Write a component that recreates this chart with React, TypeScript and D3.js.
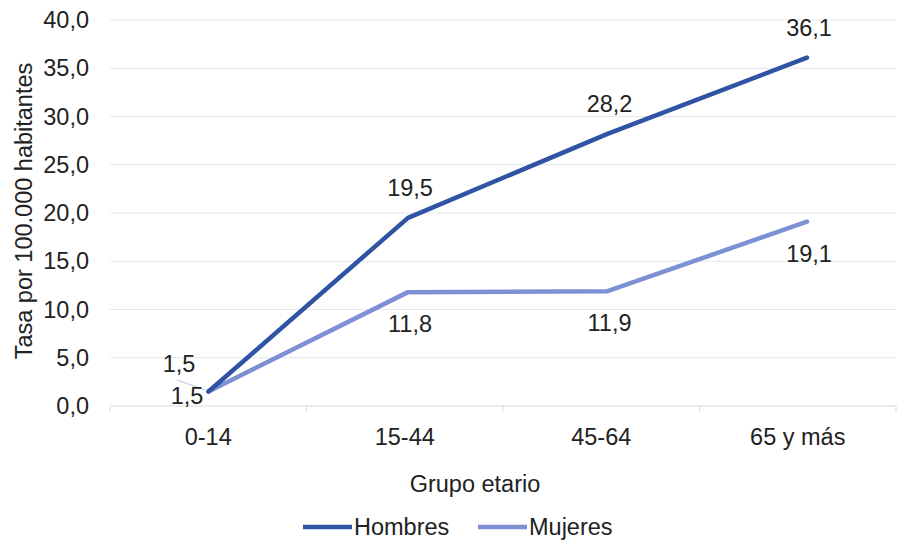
import React from "react";
import * as d3 from "d3";

const categories = ["0-14", "15-44", "45-64", "65 y más"];
const hombres = [1.5, 19.5, 28.2, 36.1];
const mujeres = [1.5, 11.8, 11.9, 19.1];
const yTicks = [0, 5, 10, 15, 20, 25, 30, 35, 40];
const seriesNames = ["Hombres", "Mujeres"];
const colors = ["#2F54A3", "#7C91D3"];

const W = 897;
const H = 542;
const font = "'Liberation Sans', Arial, sans-serif";
const FS = 23.5;

export default function App() {
  const x = d3.scaleBand<string>().domain(categories).range([110, 896]);
  const xp = d3.scalePoint<string>().domain(categories).range([208.5, 807]);
  const y = d3.scaleLinear().domain([0, 40]).range([406, 20]);
  const cx = (c: string) => (x(c) as number) + x.bandwidth() / 2;
  const px = (i: number) => xp(categories[i]) as number;
  const line = d3
    .line<number>()
    .x((_, i) => px(i))
    .y((d) => y(d));
  const fmt = (v: number) => v.toFixed(1).replace(".", ",");
  const boundaries = categories.map((c) => x(c) as number).concat([896]);

  return (
    <svg width={W} height={H} style={{ position: "absolute", left: 0, top: 0 }}>
      <rect width={W} height={H} fill="#fff" />
      {yTicks.map((t) => (
        <g key={t}>
          {t > 0 && (
            <line x1={110} x2={896} y1={y(t)} y2={y(t)} stroke="#e4e6ea" strokeWidth={1} />
          )}
          <text
            x={89}
            y={y(t)}
            dy="0.35em"
            textAnchor="end"
            fontFamily={font}
            fontSize={FS}
            fill="#222"
          >
            {fmt(t)}
          </text>
        </g>
      ))}
      <line x1={110} x2={896} y1={406} y2={406} stroke="#d6d9de" strokeWidth={1} />
      {boundaries.map((b, i) => (
        <line key={i} x1={b} x2={b} y1={406} y2={412} stroke="#d6d9de" strokeWidth={1} />
      ))}
      {categories.map((c) => (
        <text
          key={c}
          x={cx(c)}
          y={437}
          dy="0.35em"
          textAnchor="middle"
          fontFamily={font}
          fontSize={FS}
          fill="#222"
        >
          {c}
        </text>
      ))}
      <text
        x={475}
        y={484}
        dy="0.35em"
        textAnchor="middle"
        fontFamily={font}
        fontSize={FS}
        fill="#222"
      >
        Grupo etario
      </text>
      <text
        transform={`translate(24,211) rotate(-90)`}
        dy="0.35em"
        textAnchor="middle"
        fontFamily={font}
        fontSize={FS}
        fill="#222"
      >
        Tasa por 100.000 habitantes
      </text>

      {/* leader line for first Mujeres label */}
      <line x1={177} y1={380} x2={205} y2={390} stroke="#b8c4de" strokeWidth={1} />

      <path d={line(mujeres) || ""} fill="none" stroke={colors[1]} strokeWidth={4.5} strokeLinejoin="round" strokeLinecap="round" />
      <path d={line(hombres) || ""} fill="none" stroke={colors[0]} strokeWidth={4.5} strokeLinejoin="round" strokeLinecap="round" />

      {hombres.map((v, i) => (
        <text
          key={"h" + i}
          x={i === 0 ? 179 : px(i) + 2}
          y={i === 0 ? 364 : y(v) - 30}
          dy="0.35em"
          textAnchor="middle"
          fontFamily={font}
          fontSize={FS}
          fill="#222"
        >
          {fmt(v)}
        </text>
      ))}
      {mujeres.map((v, i) => (
        <text
          key={"m" + i}
          x={i === 0 ? 187 : px(i) + 2}
          y={i === 0 ? 396 : y(v) + 32}
          dy="0.35em"
          textAnchor="middle"
          fontFamily={font}
          fontSize={FS}
          fill="#222"
        >
          {fmt(v)}
        </text>
      ))}

      {seriesNames.map((n, i) => {
        const lx = i === 0 ? 303 : 478;
        return (
          <g key={n}>
            <line x1={lx} x2={lx + 49} y1={527} y2={527} stroke={colors[i]} strokeWidth={4.5} />
            <text
              x={lx + 51}
              y={527}
              dy="0.35em"
              fontFamily={font}
              fontSize={FS}
              fill="#222"
            >
              {n}
            </text>
          </g>
        );
      })}
    </svg>
  );
}
